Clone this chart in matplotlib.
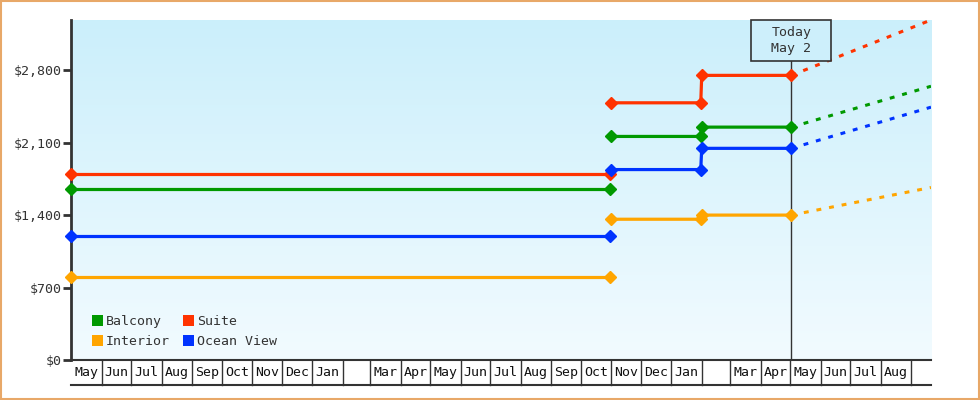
import numpy as np
import matplotlib
matplotlib.use("Agg")
import matplotlib.pyplot as plt
import matplotlib.dates as mdates
import matplotlib.transforms as mtransforms
from matplotlib.patches import Rectangle, Patch
import datetime as dt

# ---------------- data ----------------
series = ["Balcony", "Interior", "Suite", "Ocean View"]
colors = {"Balcony": "#009900", "Interior": "#ffa500", "Suite": "#ff3300", "Ocean View": "#0033ff"}

seg1_dates = ["2022-05-01", "2023-10-31"]
seg2_dates = ["2023-11-01", "2024-01-31", "2024-02-01", "2024-05-02"]
proj_dates = ["2024-05-02", "2024-09-21"]

seg1_vals = {"Balcony": 1650, "Interior": 800, "Suite": 1800, "Ocean View": 1195}
seg2_vals = {"Balcony": [2160, 2250], "Interior": [1360, 1400],
             "Suite": [2485, 2750], "Ocean View": [1840, 2045]}
proj_end = {"Balcony": 2645, "Interior": 1667, "Suite": 3285, "Ocean View": 2443}

y_ticks = [0, 700, 1400, 2100, 2800]
y_tick_labels = ["$0", "$700", "$1,400", "$2,100", "$2,800"]
today = "2024-05-02"
today_label = "Today\nMay 2"
x_start, x_end = "2022-05-01", "2024-09-21"
y_max = 3285

def d(s):
    return mdates.date2num(dt.datetime.strptime(s, "%Y-%m-%d"))

# ---------------- figure ----------------
mono = "DejaVu Sans Mono"
fig = plt.figure(figsize=(9.8, 4.0), dpi=100)
ax = fig.add_axes([71/980, 40/400, 860/980, 340/400])

# gradient background
grad = np.linspace(0, 1, 256).reshape(-1, 1)
top = np.array([203, 239, 251]) / 255
bot = np.array([242, 251, 255]) / 255
img = top[None, None, :] * (1 - grad[:, :, None]) + bot[None, None, :] * grad[:, :, None]
ax.imshow(img, extent=[0, 1, 0, 1], transform=ax.transAxes, aspect="auto", zorder=0)
ax.set_xlim(d(x_start), d(x_end))
ax.set_ylim(0, y_max)

for s in series:
    c = colors[s]
    x1 = [d(t) for t in seg1_dates]
    ax.plot(x1, [seg1_vals[s]] * 2, color=c, lw=2.3, marker="D", ms=6, zorder=3, clip_on=False)
    x2 = [d(t) for t in seg2_dates]
    v = seg2_vals[s]
    ax.plot(x2, [v[0], v[0], v[1], v[1]], color=c, lw=2.3, marker="D", ms=6, zorder=3, clip_on=False)
    xp = [d(t) for t in proj_dates]
    ax.plot(xp, [v[1], proj_end[s]], color=c, lw=2.2, ls=(0, (1.6, 2.6)), zorder=3)

# today line and box
box_bottom = 0.879
xt = d(today)
bt = mtransforms.blended_transform_factory(ax.transData, ax.transAxes)
ax.plot([xt, xt], [0, box_bottom], transform=bt, color="#333333", lw=1, zorder=2)
ax.add_patch(Rectangle((xt - 40.5, box_bottom), 81, 1 - box_bottom, transform=bt,
                       facecolor="#cdeffb", edgecolor="#333333", lw=1.2, zorder=4, clip_on=False))
ax.text(xt, (1 + box_bottom) / 2, today_label, transform=bt, ha="center", va="center",
        fontsize=9.5, family=mono, color="#333333", linespacing=1.35, zorder=5)

# y axis
ax.set_yticks(y_ticks)
ax.set_yticklabels(y_tick_labels, family=mono, fontsize=9.5, color="#333333")
ax.tick_params(axis="y", length=5.5, width=2, color="#333333", pad=1.5)
ax.set_xticks([])
for sp in ["top", "right"]:
    ax.spines[sp].set_visible(False)
ax.spines["left"].set_linewidth(2)
ax.spines["left"].set_color("#333333")
ax.spines["bottom"].set_linewidth(1.5)
ax.spines["bottom"].set_color("#333333")

# month cells
y_cell = -25 / 340
ax.plot([0, 1], [y_cell, y_cell], transform=ax.transAxes, color="#333333", lw=1.5, clip_on=False)
month_starts = []
y, m = 2022, 5
while True:
    ms = dt.datetime(y, m, 1)
    if mdates.date2num(ms) > d(x_end):
        break
    month_starts.append(ms)
    m += 1
    if m > 12:
        m, y = 1, y + 1
for i, ms in enumerate(month_starts):
    x0 = mdates.date2num(ms)
    nxt = month_starts[i + 1] if i + 1 < len(month_starts) else None
    if i > 0:
        ax.plot([x0, x0], [0, y_cell], transform=bt, color="#333333", lw=1, clip_on=False)
    if nxt is not None and ms.month != 2:
        xm = (x0 + mdates.date2num(nxt)) / 2
        ax.text(xm, y_cell / 2, ms.strftime("%b"), transform=bt, ha="center", va="center",
                family=mono, fontsize=9.5, color="#111111", clip_on=False)

# legend
handles = [Patch(facecolor=colors[s], edgecolor="none", label=s) for s in series]
leg = ax.legend(handles=handles, ncol=2, loc="lower left", bbox_to_anchor=(0.011, 0.0),
                frameon=False, prop={"family": mono, "size": 9.5},
                handlelength=0.8, handleheight=0.9, handletextpad=0.25,
                columnspacing=1.0, labelspacing=0.55)
for t in leg.get_texts():
    t.set_color("#333333")

# outer border
fig.patches.append(Rectangle((0.001, 0.002), 0.998, 0.996, transform=fig.transFigure,
                             fill=False, edgecolor="#e8a868", lw=1.5))

fig.savefig("out.png", dpi=100)
